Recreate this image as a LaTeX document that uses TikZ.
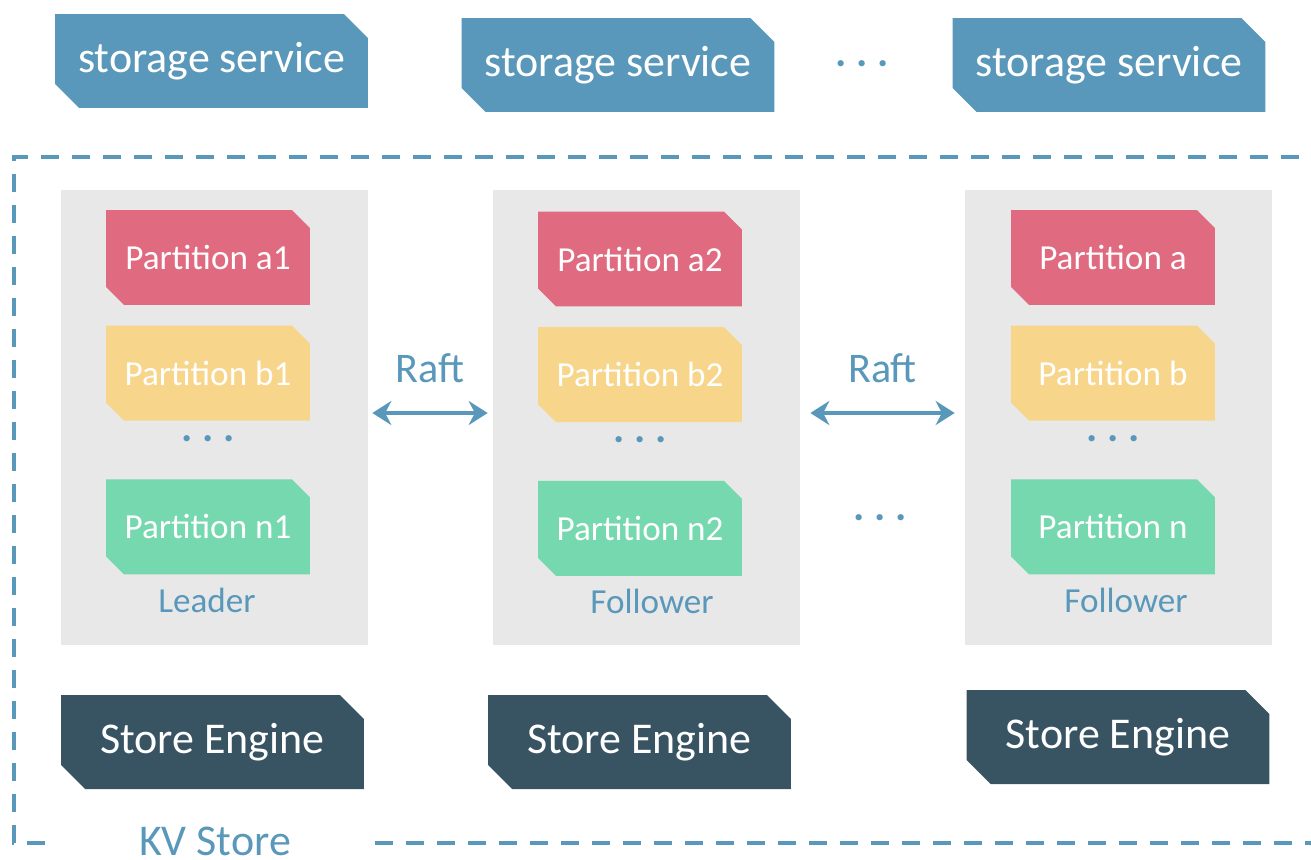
\documentclass[tikz,border=0pt]{standalone}
\usepackage{fontspec}
\setmainfont{Carlito}
\usetikzlibrary{arrows.meta,positioning,shapes.misc,calc}
\definecolor{svcblue}{RGB}{89,152,186}
\definecolor{redpart}{RGB}{224,106,128}
\definecolor{yellowpart}{RGB}{247,214,139}
\definecolor{greenpart}{RGB}{118,216,175}
\definecolor{enginegray}{RGB}{56,84,99}
\definecolor{panelgray}{RGB}{232,232,232}
\tikzstyle{cutbox} = [chamfered rectangle, chamfered rectangle corners={north east,south west},
    inner sep=0pt, text=white]
\tikzstyle{svc} = [cutbox, fill=svcblue, chamfered rectangle xsep=0.28cm, chamfered rectangle ysep=0.2cm,
    minimum width=6.26cm, minimum height=1.88cm, font=\fontsize{25}{30}\selectfont]
\tikzstyle{part} = [cutbox, chamfered rectangle xsep=0.18cm, chamfered rectangle ysep=0.18cm,
    minimum width=4.08cm, minimum height=1.9cm, font=\fontsize{20}{24}\selectfont]
\tikzstyle{pa} = [part, fill=redpart]
\tikzstyle{pb} = [part, fill=yellowpart]
\tikzstyle{pn} = [part, fill=greenpart]
\tikzstyle{engine} = [cutbox, fill=enginegray, chamfered rectangle xsep=0.28cm, chamfered rectangle ysep=0.2cm,
    minimum width=6.06cm, minimum height=1.88cm, font=\fontsize{25}{30}\selectfont]
\tikzstyle{panel} = [rectangle, fill=panelgray, minimum width=6.14cm, minimum height=9.1cm, inner sep=0pt]
\tikzstyle{bluetext} = [text=svcblue, font=\fontsize{20}{24}\selectfont]
\tikzstyle{dotsnode} = [text=svcblue, font=\fontsize{24}{28}\selectfont\bfseries]
\tikzstyle{frame} = [draw=svcblue, line width=2.3pt, dash pattern=on 0.36cm off 0.26cm]
\tikzstyle{raftarrow} = [<->, draw=svcblue, line width=2.3pt]

\begin{document}
\begin{tikzpicture}[x=0.02cm,y=-0.02cm,>={Stealth[length=0.38cm,width=0.48cm]}]
  \useasboundingbox (0,0) rectangle (1311,859);

  % storage services
  \node[svc]      (ss1)    at (211.5,61) {storage service};
  \node[svc]      (ss2)    at (618,65)   {storage service};
  \node[svc]      (ss3)    at (1109,65)  {storage service};
  \node[dotsnode] (ssdots) at (862,64)   {.\ .\ .};

  % KV store frame
  \draw[frame] (45,843) -- (14,843) -- (14,157) -- (1330,157);
  \draw[frame] (375,843) -- (1330,843);
  \node[bluetext,font=\fontsize{25}{30}\selectfont,inner sep=0pt] (kv) at (215,841) {KV Store};

  % panels
  \node[panel] (p1) at (214.5,417.5) {};
  \node[panel] (p2) at (646.5,417.5) {};
  \node[panel] (p3) at (1118.5,417.5) {};

  % partitions of the leader
  \node[pa]                  (a1) at (208,257.5)   {Partition a1};
  \node[pb]                  (b1) [below=0.4cm of a1]  {Partition b1};
  \node[pn]                  (n1) [below=1.16cm of b1] {Partition n1};
  \node[dotsnode] (d1) at ($(b1.south)!0.3!(n1.north)$) {.\ .\ .};
  \node[bluetext] (lead) at (207,600) {Leader};

  % partitions of follower 2
  \node[pa]                  (a2) at (640,259)     {Partition a2};
  \node[pb]                  (b2) [below=0.4cm of a2]  {Partition b2};
  \node[pn]                  (n2) [below=1.16cm of b2] {Partition n2};
  \node[dotsnode] (d2) at ($(b2.south)!0.3!(n2.north)$) {.\ .\ .};
  \node[bluetext] (fol2) at (652,601) {Follower};

  % partitions of follower 3
  \node[pa]                  (a3) at (1113,257.5)  {Partition a};
  \node[pb]                  (b3) [below=0.4cm of a3]  {Partition b};
  \node[pn]                  (n3) [below=1.16cm of b3] {Partition n};
  \node[dotsnode] (d3) at ($(b3.south)!0.3!(n3.north)$) {.\ .\ .};
  \node[bluetext] (fol3) at (1126,600) {Follower};

  \node[dotsnode] (pdots) at (880,518) {.\ .\ .};

  % raft links
  \draw[raftarrow] ([xshift=0.08cm,yshift=0.09cm]p1.east) -- ([xshift=-0.1cm,yshift=0.09cm]p2.west)
    node[bluetext,font=\fontsize{24}{28}\selectfont,midway,yshift=0.9cm] {Raft};
  \draw[raftarrow] ([xshift=0.2cm,yshift=0.09cm]p2.east) -- ([xshift=-0.2cm,yshift=0.09cm]p3.west)
    node[bluetext,font=\fontsize{24}{28}\selectfont,midway,yshift=0.9cm] {Raft};

  % store engines
  \node[engine] (e1) at (212.5,742) {Store Engine};
  \node[engine] (e2) at (639.5,742) {Store Engine};
  \node[engine] (e3) at (1118,737)  {Store Engine};
\end{tikzpicture}
\end{document}
